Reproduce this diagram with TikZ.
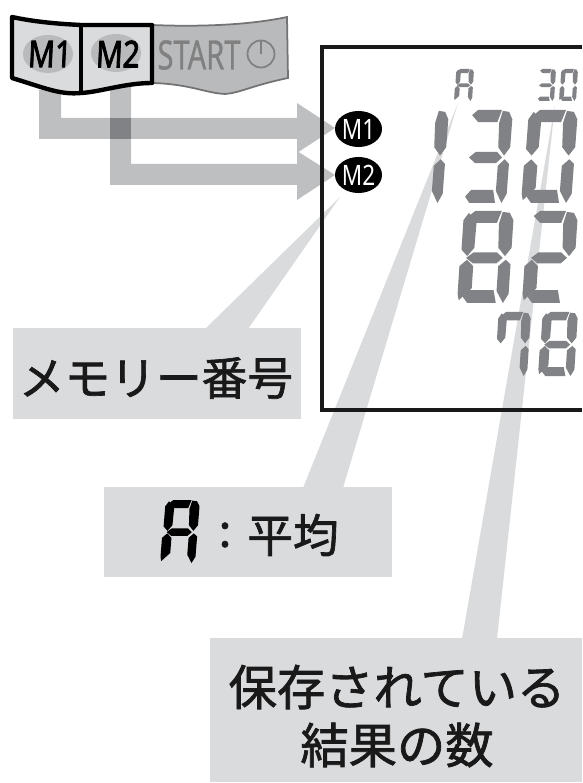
\documentclass[tikz,border=0pt]{standalone}
\usepackage{fontspec}
\setmainfont{Noto Sans}
\newfontfamily\jpfont[FakeBold=1.5]{Noto Sans CJK JP}
\newfontfamily\startfont[FakeBold=0.8]{Noto Sans}
\newfontfamily\keyfont[FakeBold=2.5]{Noto Sans}
\definecolor{boxgray}{HTML}{DADBDD}
\definecolor{arrowgray}{HTML}{BEBFC1}
\definecolor{lcdgray}{HTML}{808285}
\definecolor{startgray}{HTML}{B9BABC}
\tikzset{
  callout/.style={fill=boxgray},
  flow/.style={fill=arrowgray},
  jptext/.style={font=\jpfont\fontsize{26}{26}\selectfont,text=black!90,inner sep=0pt},
  jplarge/.style={font=\jpfont\fontsize{27.5}{27.5}\selectfont,text=black!90,inner sep=0pt},
  keytext/.style={font=\keyfont\fontsize{21}{21}\selectfont,inner sep=0pt,xscale=.8,xslant=.06,transform shape},
  badge/.style={ellipse,fill=black,text=white,minimum width=24.5pt,minimum height=20.5pt,inner sep=0pt},
}
\usetikzlibrary{shapes.geometric}
% one digit: x, y, width, height, slant, colour, segments
\newcommand{\lcddigit}[7]{
  \begin{scope}[cm={#3,0,#5,#4,(#1,#2)},fill=#6]
    \foreach \seg in {#7}{
      \if\seg a\fill (.12,.055)--(.24,0)--(.76,0)--(.68,.13)--(.26,.13)--cycle;\fi
      \if\seg b\fill (.78,.01)--(.92,.02)--(1,.10)--(1,.40)--(.88,.49)--(.74,.40)--(.72,.14)--cycle;\fi
      \if\seg c\fill (.90,.53)--(1,.58)--(1,.90)--(.90,1)--(.76,.87)--(.76,.60)--cycle;\fi
      \if\seg d\fill (.10,.93)--(.22,.86)--(.70,.86)--(.76,1)--(.20,1)--cycle;\fi
      \if\seg e\fill (.14,.53)--(.27,.60)--(.27,.84)--(.03,.97)--(0,.90)--(0,.60)--cycle;\fi
      \if\seg f\fill (.12,.02)--(.28,.13)--(.27,.40)--(.14,.49)--(.02,.42)--(.02,.10)--cycle;\fi
      \if\seg g\fill (.12,.51)--(.26,.45)--(.72,.45)--(.84,.51)--(.72,.57)--(.26,.57)--cycle;\fi
    }
  \end{scope}
}
\begin{document}
\begin{tikzpicture}[x=0.02cm,y=-0.02cm]
  \useasboundingbox (0,0) rectangle (582,783);
  %Callouts
  \fill[callout] (340,197) -- (205,329) -- (248,329) -- cycle;
  \fill[callout] (458,103) -- (303,488) -- (343,488) -- cycle;
  \fill[callout] (555,105) -- (462,639) -- (497,639) -- cycle;
  \fill[callout] (13,328) rectangle (301,419);
  \fill[callout] (104,487) rectangle (392,577);
  \fill[callout] (210,638) rectangle (582,782);
  %Arrows from the keys
  \fill[flow] (39,90) -- (61,90) -- (61,118) -- (297,118) -- (297,103) -- (335,128) -- (297,153) -- (297,139) -- (39,139) -- cycle;
  \fill[flow] (110,85) -- (131,85) -- (131,164) -- (297,164) -- (297,151) -- (335,175) -- (297,200) -- (297,185) -- (110,185) -- cycle;
  \fill[lcdgray] (110,118) rectangle (131,139);
  %Display frame
  \draw[line width=2.2pt,black!90] (582,47) -- (322,47) -- (322,410) -- (582,410);
  %Keys
  \draw[fill=startgray,draw=black!55,line width=1pt] (152,25) .. controls (200,27) and (250,25) .. (287,17) -- (288,78) .. controls (250,86) and (240,93) .. (225,94) .. controls (205,93) and (190,84) .. (152,83) -- cycle;
  \draw[fill=boxgray,line width=2.5pt,line join=round] (12,17) .. controls (35,22) and (60,24) .. (81,25) -- (152,25) -- (152,83) .. controls (125,83) and (100,92) .. (81,93) .. controls (60,95) and (45,88) .. (12,78) -- cycle;
  \draw[line width=2.5pt] (81,25) -- (81,93);
  \fill[startgray] (48,54) ellipse (25 and 19);
  \fill[startgray] (116,53) ellipse (25 and 19);
  \node[keytext] (keyone) at (50,54) {M1};
  \node[keytext] (keytwo) at (118,54) {M2};
  \node[inner sep=0pt,text=black!50,font=\startfont\fontsize{23}{23}\selectfont,xscale=.72,transform shape] (keystart) at (199,55) {START};
  \draw[black!50,line width=1pt] (261,54) circle (13.5);
  \draw[black!50,line width=1pt] (261,41) -- (261,54);
  %Memory numbers
  \node[badge] (badgeone) at (358.5,129) {\bfseries\fontsize{16}{16}\selectfont\scalebox{.8}[1]{M1}};
  \node[badge] (badgetwo) at (358.5,175) {\bfseries\fontsize{16}{16}\selectfont\scalebox{.8}[1]{M2}};
  %Readings
  \lcddigit{456}{69}{18}{32}{2}{lcdgray}{a,b,c,e,f,g}
  \lcddigit{538}{69}{18}{32}{2}{lcdgray}{a,b,c,d,g}
  \lcddigit{561}{69}{17}{32}{2}{lcdgray}{a,b,c,d,e,f}
  \lcddigit{403}{110}{46}{93}{7}{lcdgray}{b,c}
  \lcddigit{467}{110}{46}{93}{7}{lcdgray}{a,b,c,d,g}
  \lcddigit{528}{110}{50}{93}{7}{lcdgray}{a,b,c,d,e,f}
  \lcddigit{463}{211}{51}{92}{6}{lcdgray}{a,b,c,d,e,f,g}
  \lcddigit{528}{211}{50}{92}{6}{lcdgray}{a,b,d,e,g}
  \lcddigit{498}{312}{33}{64}{4}{lcdgray}{a,b,c,f}
  \lcddigit{542}{312}{36}{64}{4}{lcdgray}{a,b,c,d,e,f,g}
  %Labels
  \node[jptext] (labelmemory) at (156,378) {メモリー番号};
  \lcddigit{165}{500}{35}{63}{5}{black}{a,b,c,e,f,g}
  \node[jptext] (labelcolon) at (225,535) {:};
  \node[jptext] (labelaverage) at (293,535) {平均};
  \node[jplarge] (labelsaved) at (397,687) {保存されている};
  \node[jplarge] (labelcount) at (397,745) {結果の数};
\end{tikzpicture}
\end{document}
